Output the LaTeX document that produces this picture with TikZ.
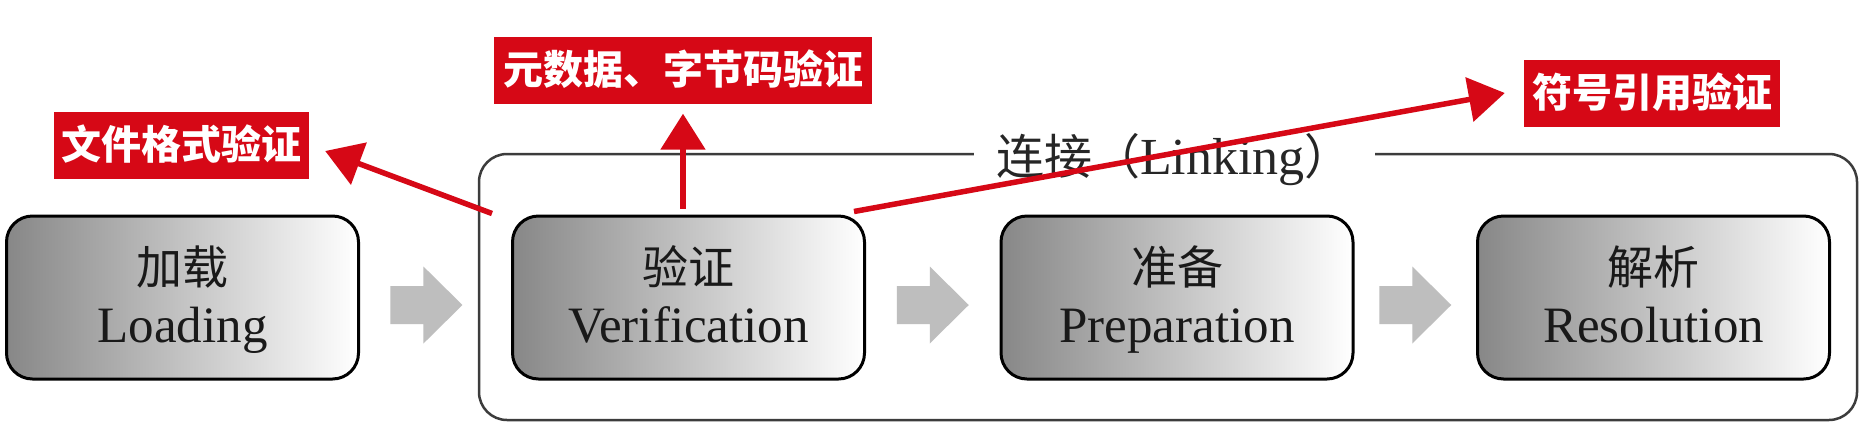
\documentclass[tikz,border=0pt]{standalone}
\usepackage{fontspec}
\setmainfont{Liberation Serif}
\newfontfamily\cjk{Noto Sans CJK SC}
\usetikzlibrary{arrows.meta,calc}
\definecolor{labred}{RGB}{214,8,22}
\definecolor{blockgray}{RGB}{190,190,190}
\definecolor{framegray}{RGB}{60,60,60}
\tikzset{
  stage/.style={draw=black, line width=3pt, rounded corners=26pt, minimum width=352pt,
    minimum height=163pt, left color=black!47, right color=white, inner sep=0pt},
  cjktext/.style={font=\cjk\fontsize{46}{50}\selectfont, anchor=base, inner sep=0pt, text=black!90},
  lattext/.style={font=\fontsize{51}{55}\selectfont, anchor=base, inner sep=0pt, text=black!90},
  redlabel/.style={fill=labred, text=white, font=\cjk\bfseries\fontsize{40}{44}\selectfont,
    inner sep=0pt, minimum height=67pt, text height=34pt, text depth=6pt},
  redarrow/.style={draw=labred, line width=5.5pt, -{Triangle[length=36pt,width=44pt]}},
  blockarrow/.pic={\fill[blockgray] (-36,-19) -- (-3,-19) -- (-3,-38.5) -- (36,0) -- (-3,38.5) -- (-3,19) -- (-36,19) -- cycle;},
  frame/.style={draw=framegray, line width=2.5pt, rounded corners=28pt, minimum width=1378pt,
    minimum height=266pt, inner sep=0pt},
}
\begin{document}
\begin{tikzpicture}[x=1pt,y=-1pt]
\useasboundingbox (0,0) rectangle (1860,424);
\fill[white] (0,0) rectangle (1860,424);

% Linking frame
\node[frame] (link) at (1168,287) {};
\node[fill=white, inner xsep=22pt, inner ysep=0pt, anchor=base, text=black!85] (linktitle) at (1174.5,174)
  {{\cjk\fontsize{48}{50}\selectfont 连接（}{\fontsize{52}{56}\selectfont Linking}{\cjk\fontsize{48}{50}\selectfont ）}};

% stages
\node[stage] (load) at (182.5,297.5) {};
\node[stage] (ver)  at (688.5,297.5) {};
\node[stage] (prep) at (1177,297.5) {};
\node[stage] (res)  at (1653.5,297.5) {};

\node[cjktext] (loadzh) at ([yshift=13.5pt]load.center) {加载};
\node[lattext] (loaden) at ([yshift=-44.5pt]load.center) {Loading};
\node[cjktext] (verzh) at ([yshift=13.5pt]ver.center) {验证};
\node[lattext] (veren) at ([yshift=-44.5pt]ver.center) {Verification};
\node[cjktext] (prepzh) at ([yshift=13.5pt]prep.center) {准备};
\node[lattext] (prepen) at ([yshift=-44.5pt]prep.center) {Preparation};
\node[cjktext] (reszh) at ([yshift=13.5pt]res.center) {解析};
\node[lattext] (resen) at ([yshift=-44.5pt]res.center) {Resolution};

% gray block arrows
\pic at ($(load.east)!0.44!(ver.west)+(0,7.5)$) {blockarrow};
\pic at ($(ver.east)!0.5!(prep.west)+(0,7.5)$) {blockarrow};
\pic at ($(prep.east)!0.5!(res.west)+(0,7.5)$) {blockarrow};

% red labels
\node[redlabel, minimum width=255pt] (lab1) at (181.5,145.5) {文件格式验证};
\node[redlabel, minimum width=378pt] (lab2) at (683,70) {元数据、字节码验证};
\node[redlabel, minimum width=256pt] (lab3) at (1652,93.5) {符号引用验证};

% red arrows
\coordinate (s1) at ($(ver.north west)+(-19,-1)$);
\coordinate (t1) at ($(lab1.east)+(16,5.5)$);
\coordinate (s2) at ($(ver.north)+(-5.5,-6)$);
\coordinate (t2) at ($(lab2.south)+(0,10)$);
\coordinate (s3) at ($(ver.north east)+(-12,-3)$);
\coordinate (t3) at ($(lab3.west)+(-19,-0.5)$);
\draw[redarrow] (s1) -- (t1);
\draw[redarrow] (s2) -- (t2);
\draw[redarrow] (s3) -- (t3);
\end{tikzpicture}
\end{document}
